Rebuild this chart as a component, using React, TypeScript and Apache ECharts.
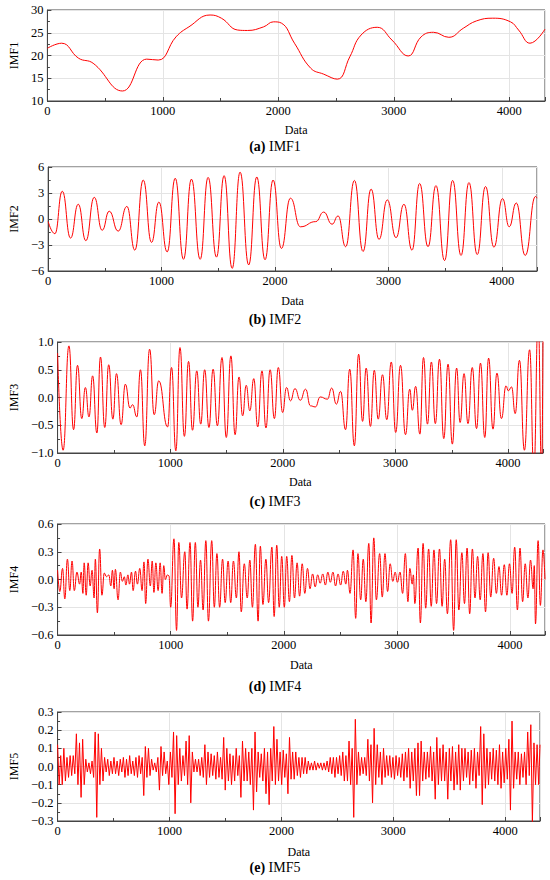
import React, { useEffect, useRef } from "react";
import * as echarts from "echarts";

const X_MAX = 4310;
const X_INTERVAL = 1000;
const IMF5_STEP = 14;

const IMF1: [number, number][] = [
  [0, 21.6], [123, 22.7], [270, 19.4], [396, 18.3], [650, 12.2], [860, 19.2], [960, 19.0],
  [1114, 24.1], [1226, 26.3], [1409, 28.9], [1507, 28.2], [1648, 25.6], [1733, 25.5],
  [1873, 26.3], [1958, 27.4], [2028, 27.1], [2140, 22.7], [2281, 17.2], [2393, 15.9],
  [2511, 14.8], [2619, 19.7], [2717, 24.5], [2857, 26.2], [2984, 23.4], [3125, 19.9],
  [3237, 24.1], [3344, 25.1], [3477, 24.0], [3603, 26.0], [3716, 27.6], [3857, 28.2],
  [4011, 27.4], [4081, 25.6], [4180, 22.7], [4310, 25.8],
];

const IMF2: [number, number][] = [
  [0, -0.3], [59, -1.7], [124, 3.2], [197, -2.2], [265, 1.7], [332, -2.5], [406, 2.5],
  [476, -1.3], [538, 0.9], [617, -1.4], [694, 1.45], [764, -3.6], [838, 4.5], [911, -2.7],
  [976, 1.95], [1049, -3.8], [1120, 4.7], [1193, -4.65], [1263, 4.6], [1340, -4.65],
  [1410, 4.8], [1484, -4.4], [1551, 5.0], [1622, -5.7], [1692, 5.4], [1768, -5.3],
  [1839, 4.85], [1912, -4.7], [1983, 4.5], [2056, -3.4], [2136, 2.4], [2224, -0.9],
  [2359, -0.3], [2429, 0.8], [2503, -0.6], [2556, 0.35], [2623, -3.2], [2700, 4.45],
  [2776, -3.75], [2847, 3.45], [2917, -2.35], [2990, 2.2], [3067, -2.15], [3137, 1.7],
  [3208, -3.6], [3275, 4.1], [3349, -3.2], [3419, 3.85], [3495, -4.8], [3566, 4.45],
  [3640, -4.2], [3710, 4.2], [3783, -4.1], [3856, 3.75], [3930, -3.25], [4006, 2.35],
  [4065, -0.9], [4127, 1.85], [4206, -4.2], [4297, 2.6], [4310, 2.4],
];

const IMF3: [number, number][] = [
  [0, 0.8], [49, -0.95], [101, 0.93], [142, -0.58], [177, 0.58], [215, -0.38], [247, 0.18],
  [279, -0.35], [311, 0.39], [349, -0.64], [381, 0.73], [419, -0.54], [454, 0.59],
  [491, -0.39], [523, 0.43], [564, -0.49], [602, 0.24], [643, -0.19], [666, -0.13],
  [704, -0.35], [736, 0.5], [774, -0.87], [817, 0.87], [858, -0.31], [898, 0.3],
  [977, -0.53], [1012, 0.54], [1050, -0.96], [1087, 0.9], [1126, -0.7], [1163, 0.65],
  [1198, -0.59], [1236, 0.48], [1271, -0.48], [1306, 0.5], [1344, -0.54], [1381, 0.51],
  [1419, -0.51], [1460, 0.72], [1498, -0.72], [1539, 0.75], [1576, -0.67], [1611, 0.37],
  [1643, -0.33], [1675, 0.22], [1707, -0.24], [1742, 0.34], [1777, -0.53], [1815, 0.48],
  [1850, -0.55], [1887, 0.5], [1925, -0.38], [1960, 0.54], [1998, -0.27], [2033, 0.18],
  [2068, -0.06], [2108, 0.16], [2155, -0.05], [2202, 0.15], [2245, -0.15], [2289, -0.17],
  [2332, 0.01], [2396, -0.03], [2434, 0.17], [2475, -0.12], [2513, 0.11], [2557, -0.58],
  [2594, 0.51], [2635, -0.87], [2673, 0.78], [2708, -0.43], [2740, 0.53], [2778, -0.52],
  [2812, 0.49], [2847, -0.39], [2885, 0.41], [2923, -0.4], [2963, 0.64], [3002, -0.63],
  [3045, 0.58], [3089, -0.67], [3127, 0.15], [3150, -0.23], [3179, 0.2], [3217, -0.66],
  [3249, 0.72], [3284, -0.48], [3319, 0.64], [3354, -0.47], [3391, 0.69], [3429, -0.74],
  [3467, 0.6], [3505, -0.84], [3543, 0.53], [3574, -0.45], [3609, 0.43], [3644, -0.47],
  [3682, 0.54], [3720, -0.56], [3755, 0.62], [3793, -0.72], [3827, 0.71], [3866, -0.57],
  [3901, 0.44], [3941, -0.38], [3982, 0.21], [4002, 0.12], [4031, 0.19], [4063, -0.29],
  [4101, 0.67], [4145, -0.95], [4191, 0.86], [4229, -1.3], [4267, 1.4], [4298, -1.3],
  [4310, 1.1],
];

const IMF4: [number, number][] = [
  [0, 0.1], [20, -0.13], [44, 0.12], [64, -0.21], [87, 0.22], [108, -0.12], [128, 0.2],
  [148, -0.12], [171, 0.08], [195, -0.05], [209, 0.08], [224, -0.15], [235, 0.18],
  [253, -0.17], [270, 0.18], [288, -0.07], [305, 0.1], [323, -0.2], [334, 0.22],
  [352, -0.36], [372, 0.33], [392, -0.17], [413, 0.07], [433, 0.03], [453, 0.05],
  [471, -0.07], [485, 0.1], [500, -0.1], [511, 0.11], [535, -0.22], [555, 0.08],
  [573, -0.02], [590, 0.03], [604, -0.06], [622, 0.05], [636, -0.05], [654, 0.08],
  [668, -0.12], [689, 0.09], [706, -0.05], [727, 0.12], [747, -0.12], [764, 0.19],
  [779, -0.26], [799, 0.22], [820, -0.07], [837, 0.2], [852, -0.14], [869, 0.18],
  [889, -0.12], [907, 0.18], [924, -0.15], [939, 0.15], [953, 0.0], [971, 0.05],
  [985, 0.04], [1000, -0.3], [1029, 0.44], [1052, -0.55], [1072, 0.4], [1096, -0.2],
  [1125, 0.3], [1145, -0.32], [1171, 0.4], [1194, -0.45], [1218, 0.4], [1241, -0.3],
  [1264, 0.21], [1287, -0.33], [1311, 0.42], [1334, -0.45], [1363, 0.42], [1386, -0.3],
  [1409, 0.28], [1433, -0.3], [1459, 0.22], [1482, -0.25], [1508, 0.2], [1531, -0.25],
  [1555, 0.2], [1581, -0.2], [1604, 0.3], [1624, -0.35], [1651, 0.17], [1677, -0.2],
  [1700, 0.21], [1723, -0.3], [1749, 0.38], [1773, -0.45], [1793, 0.36], [1816, -0.27],
  [1842, 0.22], [1866, -0.25], [1895, 0.35], [1915, -0.4], [1938, 0.37], [1960, -0.3],
  [1982, 0.25], [2005, -0.3], [2026, 0.25], [2050, -0.24], [2072, 0.26], [2095, -0.2],
  [2118, 0.18], [2140, -0.18], [2163, 0.17], [2186, -0.15], [2210, 0.12], [2232, -0.1],
  [2255, 0.06], [2278, -0.08], [2300, 0.05], [2322, -0.04], [2345, 0.06], [2368, -0.06],
  [2390, 0.08], [2412, -0.03], [2435, 0.08], [2458, -0.07], [2480, 0.06], [2503, -0.06],
  [2526, 0.09], [2549, -0.05], [2563, 0.1], [2586, -0.15], [2613, 0.32], [2636, -0.42],
  [2656, 0.28], [2680, -0.22], [2703, 0.22], [2726, -0.24], [2752, 0.39], [2772, -0.47],
  [2796, 0.45], [2819, -0.22], [2848, 0.28], [2871, -0.19], [2895, 0.28], [2918, -0.13],
  [2941, 0.17], [2964, -0.02], [2985, 0.08], [3005, -0.03], [3028, 0.08], [3051, -0.15],
  [3075, 0.28], [3098, -0.24], [3115, 0.12], [3136, -0.05], [3146, 0.05], [3159, -0.26],
  [3188, 0.34], [3208, -0.47], [3232, 0.39], [3255, -0.31], [3281, 0.33], [3304, -0.29],
  [3328, 0.32], [3351, -0.26], [3377, 0.33], [3400, -0.29], [3423, 0.22], [3447, -0.37],
  [3476, 0.43], [3502, -0.55], [3525, 0.43], [3548, -0.33], [3575, 0.29], [3598, -0.26],
  [3621, 0.34], [3644, -0.37], [3668, 0.33], [3691, -0.2], [3714, 0.25], [3737, -0.22],
  [3761, 0.28], [3784, -0.35], [3807, 0.29], [3830, -0.19], [3856, 0.23], [3880, -0.15],
  [3903, 0.14], [3926, -0.17], [3950, 0.16], [3973, -0.17], [3996, 0.17], [4019, -0.15],
  [4042, 0.35], [4066, -0.33], [4089, 0.34], [4112, -0.24], [4135, 0.17], [4159, -0.2],
  [4182, 0.21], [4205, -0.1], [4215, 0.15], [4226, -0.48], [4249, 0.42], [4269, -0.28],
  [4292, 0.32], [4310, 0.0],
];

// IMF5: one value every IMF5_STEP samples
const IMF5_VALUES: number[] = [
  0.12, -0.1, 0.06, -0.1, 0.1, -0.08, 0.05, -0.06, 0.06, -0.05,
  0.06, -0.04, 0.18, -0.1, 0.13, -0.17, 0.15, -0.1, 0.04, -0.03,
  0.02, -0.04, 0.03, -0.06, 0.19, -0.28, 0.18, -0.1, 0.1, -0.08,
  0.05, -0.03, 0.04, -0.05, 0.03, -0.04, 0.05, -0.04, 0.03, -0.05,
  0.04, -0.03, 0.05, -0.06, 0.04, -0.05, 0.06, -0.04, 0.03, -0.05,
  0.05, -0.06, 0.06, -0.04, 0.05, -0.16, 0.11, -0.06, 0.1, -0.05,
  0.04, -0.02, 0.02, -0.03, 0.05, -0.13, 0.11, -0.05, 0.08, -0.04,
  0.03, -0.1, 0.08, -0.06, 0.19, -0.26, 0.17, -0.1, 0.1, -0.08,
  0.06, -0.05, 0.14, -0.1, 0.17, -0.2, 0.08, -0.03, 0.04, -0.03,
  0.04, -0.05, 0.05, -0.06, 0.12, -0.1, 0.08, -0.06, 0.07, -0.05,
  0.06, -0.07, 0.08, -0.06, 0.05, -0.07, 0.16, -0.13, 0.1, -0.08,
  0.07, -0.1, 0.06, -0.08, 0.1, -0.05, 0.06, -0.17, 0.14, -0.08,
  0.1, -0.08, 0.08, -0.1, 0.1, -0.24, 0.19, -0.14, 0.08, -0.06,
  0.07, -0.08, 0.1, -0.15, 0.08, -0.21, 0.1, -0.08, 0.22, -0.1,
  0.15, -0.08, 0.08, -0.1, 0.09, -0.06, 0.07, -0.15, 0.16, -0.07,
  0.08, -0.07, 0.08, -0.05, 0.05, -0.06, 0.05, -0.04, 0.05, -0.04,
  0.03, -0.02, 0.02, -0.02, 0.03, -0.02, 0.02, -0.01, 0.02, -0.02,
  0.02, -0.02, 0.03, -0.03, 0.05, -0.04, 0.05, -0.06, 0.05, -0.04,
  0.06, -0.05, 0.08, -0.08, 0.06, -0.08, 0.14, -0.1, 0.1, -0.28,
  0.26, -0.1, 0.08, -0.05, 0.05, -0.04, 0.05, -0.05, 0.15, -0.08,
  0.12, -0.2, 0.21, -0.1, 0.12, -0.06, 0.08, -0.1, 0.1, -0.06,
  0.06, -0.05, 0.06, -0.06, 0.05, -0.07, 0.06, -0.05, 0.05, -0.06,
  0.07, -0.08, 0.08, -0.06, 0.1, -0.12, 0.08, -0.08, 0.1, -0.16,
  0.13, -0.16, 0.14, -0.08, 0.08, -0.07, 0.08, -0.06, 0.11, -0.08,
  0.08, -0.18, 0.16, -0.1, 0.1, -0.08, 0.12, -0.08, 0.08, -0.18,
  0.1, -0.08, 0.11, -0.13, 0.08, -0.1, 0.12, -0.13, 0.1, -0.08,
  0.1, -0.06, 0.08, -0.1, 0.09, -0.08, 0.1, -0.12, 0.08, -0.05,
  0.22, -0.21, 0.18, -0.12, 0.1, -0.1, 0.08, -0.07, 0.1, -0.08,
  0.09, -0.1, 0.12, -0.12, 0.08, -0.09, 0.1, -0.07, 0.15, -0.24,
  0.25, -0.12, 0.08, -0.07, 0.08, -0.1, 0.07, -0.06, 0.08, -0.1,
  0.19, -0.05, 0.23, -0.31, 0.13, -0.1, 0.12, -0.1,
];
const IMF5_LAST = 0.12;

const IMF5: [number, number][] = IMF5_VALUES.map(
  (v, i) => [i * IMF5_STEP, v] as [number, number]
).concat([[X_MAX, IMF5_LAST]]);

const FONT = "Liberation Serif";
const LINE_COLOR = "#ff0000";
const AXIS_COLOR = "#444444";
const SPLIT_COLOR = "#e4e4e4";

type Panel = {
  letter: string;
  name: string;
  data: [number, number][];
  min: number;
  max: number;
  interval: number;
  decimals: number;
  smooth: number | boolean;
  monotone?: "x";
  grid: { left: number; right: number; top: number; height: number };
  xNameGap: number;
  yNameGap: number;
  captionTop: number;
};

const PANELS: Panel[] = [
  { letter: "(a)", name: "IMF1", data: IMF1, min: 10, max: 30, interval: 5, decimals: 0,
    smooth: 0.45, grid: { left: 35, right: 5, top: 10, height: 91 },
    xNameGap: 23, yNameGap: 20, captionTop: 139 },
  { letter: "(b)", name: "IMF2", data: IMF2, min: -6, max: 6, interval: 3, decimals: 0,
    smooth: 0.5, monotone: "x", grid: { left: 47, right: 13, top: 167, height: 104 },
    xNameGap: 24, yNameGap: 19, captionTop: 312 },
  { letter: "(c)", name: "IMF3", data: IMF3, min: -1, max: 1, interval: 0.5, decimals: 1,
    smooth: 0.5, monotone: "x", grid: { left: 49, right: 7, top: 342, height: 111 },
    xNameGap: 23, yNameGap: 30, captionTop: 494 },
  { letter: "(d)", name: "IMF4", data: IMF4, min: -0.6, max: 0.6, interval: 0.3, decimals: 1,
    smooth: 0.45, monotone: "x", grid: { left: 51, right: 5, top: 524, height: 111 },
    xNameGap: 24, yNameGap: 29, captionTop: 679 },
  { letter: "(e)", name: "IMF5", data: IMF5, min: -0.3, max: 0.3, interval: 0.1, decimals: 1,
    smooth: false, grid: { left: 53, right: 10, top: 712, height: 109 },
    xNameGap: 25, yNameGap: 30, captionTop: 860 },
];

function formatter(decimals: number) {
  return (v: number) => {
    const val = Math.abs(v) < 1e-9 ? 0 : v;
    return val.toFixed(decimals).replace("-", "\u2212");
  };
}

function buildOption() {
  const grid = PANELS.map((p) => ({
    left: p.grid.left,
    right: p.grid.right,
    top: p.grid.top,
    height: p.grid.height,
    show: true,
    borderColor: AXIS_COLOR,
    borderWidth: 1,
    containLabel: false,
  }));

  const xAxis = PANELS.map((p, i) => ({
    type: "value",
    gridIndex: i,
    min: 0,
    max: X_MAX,
    interval: X_INTERVAL,
    name: "Data",
    nameLocation: "middle",
    nameGap: p.xNameGap,
    nameTextStyle: { fontFamily: FONT, fontSize: 12, color: "#000" },
    axisLine: { show: true, onZero: false, lineStyle: { color: AXIS_COLOR, width: 1 } },
    axisTick: { show: true, inside: true, length: 4, lineStyle: { color: AXIS_COLOR } },
    minorTick: { show: true, splitNumber: 2, length: 3, lineStyle: { color: AXIS_COLOR } },
    axisLabel: {
      fontFamily: FONT,
      fontSize: 12.5,
      color: "#000",
      margin: 3,
      showMaxLabel: false,
      formatter: (v: number) => String(Math.round(v)),
    },
    splitLine: { show: true, lineStyle: { color: SPLIT_COLOR, width: 1 } },
  }));

  const yAxis = PANELS.map((p, i) => ({
    type: "value",
    gridIndex: i,
    min: p.min,
    max: p.max,
    interval: p.interval,
    name: p.name,
    nameLocation: "middle",
    nameGap: p.yNameGap,
    nameTextStyle: { fontFamily: FONT, fontSize: 12, color: "#000" },
    axisLine: { show: true, onZero: false, lineStyle: { color: AXIS_COLOR, width: 1 } },
    axisTick: { show: true, inside: true, length: 4, lineStyle: { color: AXIS_COLOR } },
    minorTick: { show: true, splitNumber: 2, length: 2.5, lineStyle: { color: AXIS_COLOR } },
    axisLabel: {
      fontFamily: FONT,
      fontSize: 12.5,
      color: "#000",
      margin: 4,
      formatter: formatter(p.decimals),
    },
    splitLine: { show: true, lineStyle: { color: SPLIT_COLOR, width: 1 } },
  }));

  const series = PANELS.map((p, i) => ({
    type: "line",
    name: p.name,
    xAxisIndex: i,
    yAxisIndex: i,
    data: p.data,
    showSymbol: false,
    symbol: "none",
    smooth: p.smooth,
    smoothMonotone: p.monotone,
    clip: true,
    silent: true,
    lineStyle: { color: LINE_COLOR, width: 1 },
    emphasis: { disabled: true },
  }));

  const title = PANELS.map((p) => ({
    text: `{b|${p.letter}} ${p.name}`,
    left: "center",
    top: p.captionTop,
    padding: 0,
    textStyle: {
      fontFamily: FONT,
      fontSize: 14,
      fontWeight: "normal",
      color: "#000",
      rich: {
        b: { fontFamily: FONT, fontSize: 14, fontWeight: "bold", color: "#000" },
      },
    },
  }));

  return {
    animation: false,
    backgroundColor: "#ffffff",
    textStyle: { fontFamily: FONT },
    title,
    grid,
    xAxis,
    yAxis,
    series,
  };
}

export default function App() {
  const ref = useRef<HTMLDivElement | null>(null);

  useEffect(() => {
    document.body.style.margin = "0";
    if (!ref.current) return;
    const chart = echarts.init(ref.current, undefined, { renderer: "svg" });
    chart.setOption(buildOption() as any);
    return () => {
      chart.dispose();
    };
  }, []);

  return <div ref={ref} style={{ width: 550, height: 880 }} />;
}
